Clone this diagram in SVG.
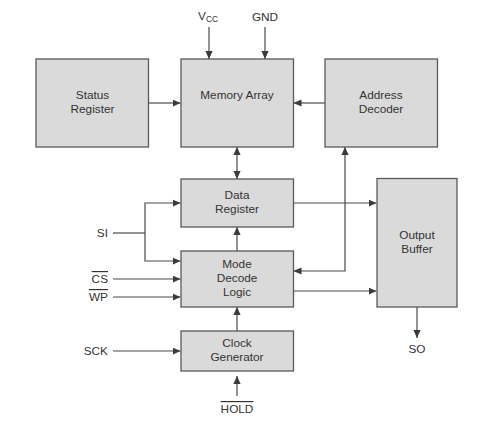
<svg xmlns="http://www.w3.org/2000/svg" width="489" height="438" viewBox="0 0 489 438">
<defs>
<marker id="ah" viewBox="0 0 8 8" refX="8" refY="4" markerWidth="8" markerHeight="8" markerUnits="userSpaceOnUse" orient="auto-start-reverse">
<path d="M0,0.4 L8,4 L0,7.6 Z" fill="#3a3a3a"/>
</marker>
<style>
.box{fill:#dadada;stroke:#5a5a5a;stroke-width:1.3}
.lbl{font-family:"Liberation Sans",Arial,sans-serif;font-size:11.8px;fill:#333;text-anchor:middle}
.pin{font-family:"Liberation Sans",Arial,sans-serif;font-size:11.8px;fill:#333;text-anchor:end}
.c{fill:none;stroke:#4a4a4a;stroke-width:1.2}
.a{marker-end:url(#ah)}
.b{marker-start:url(#ah);marker-end:url(#ah)}
</style>
</defs>
<rect width="489" height="438" fill="#fff"/>
<g id="connectors">
<path class="c a" d="M209,27 V59"/>
<path class="c a" d="M265,27 V59"/>
<path class="c a" d="M149,103 H180.5"/>
<path class="c a" d="M325,103 H293.5"/>
<path class="c b" d="M237,147 V179"/>
<path class="c b" d="M293.5,271 H345 V147"/>
<path class="c a" d="M293.5,203 H376.5"/>
<path class="c b" d="M180.5,203 H145 V261 H180.5"/>
<path class="c" d="M113,233 H145"/>
<path class="c a" d="M113,279 H180.5"/>
<path class="c a" d="M113,297 H180.5"/>
<path class="c a" d="M293.5,291 H376.5"/>
<path class="c a" d="M237,251 V227"/>
<path class="c a" d="M237,331 V307"/>
<path class="c a" d="M113,351 H180.5"/>
<path class="c a" d="M237,396 V376"/>
<path class="c a" d="M417,307 V338"/>
</g>
<g id="status-register">
<rect class="box" x="36" y="59" width="112.5" height="88"/>
<text class="lbl" x="92.5" y="99">Status</text>
<text class="lbl" x="92.5" y="113">Register</text>
</g>
<g id="memory-array">
<rect class="box" x="181" y="59" width="112.5" height="88"/>
<text class="lbl" x="237" y="99">Memory Array</text>
</g>
<g id="address-decoder">
<rect class="box" x="325" y="59" width="112.5" height="88"/>
<text class="lbl" x="381" y="99">Address</text>
<text class="lbl" x="381" y="113">Decoder</text>
</g>
<g id="data-register">
<rect class="box" x="181" y="179" width="112.5" height="48"/>
<text class="lbl" x="237" y="199">Data</text>
<text class="lbl" x="237" y="213">Register</text>
</g>
<g id="mode-decode-logic">
<rect class="box" x="181" y="251" width="112.5" height="56"/>
<text class="lbl" x="237" y="268">Mode</text>
<text class="lbl" x="237" y="282">Decode</text>
<text class="lbl" x="237" y="296">Logic</text>
</g>
<g id="output-buffer">
<rect class="box" x="377" y="178.5" width="80" height="128.5"/>
<text class="lbl" x="417" y="239">Output</text>
<text class="lbl" x="417" y="253">Buffer</text>
</g>
<g id="clock-generator">
<rect class="box" x="181" y="331" width="112.5" height="40"/>
<text class="lbl" x="237" y="347">Clock</text>
<text class="lbl" x="237" y="361">Generator</text>
</g>
<g id="pins">
<text class="lbl" x="198" y="20" text-anchor="start" style="text-anchor:start">V<tspan font-size="8.5" dy="1.5">CC</tspan></text>
<text class="lbl" x="265" y="21">GND</text>
<text class="pin" x="108" y="237">SI</text>
<text class="pin" x="108" y="283" text-decoration="overline">CS</text>
<text class="pin" x="108" y="301" text-decoration="overline">WP</text>
<text class="pin" x="108" y="355">SCK</text>
<text class="lbl" x="237" y="413" text-decoration="overline">HOLD</text>
<text class="lbl" x="417" y="353">SO</text>
</g>
</svg>
